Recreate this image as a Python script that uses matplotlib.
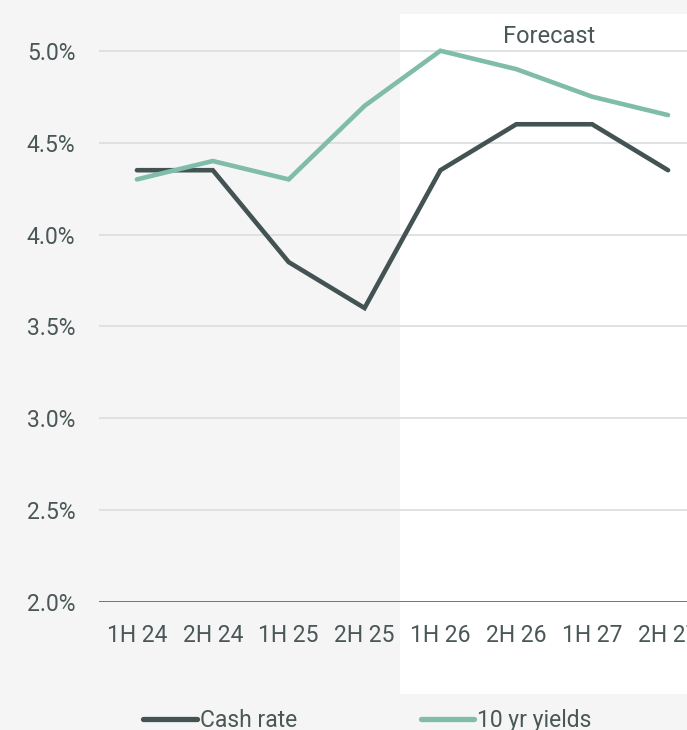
import matplotlib
matplotlib.use('Agg')
import matplotlib.pyplot as plt
import matplotlib.transforms as mtransforms
from matplotlib.patches import Rectangle

# ============================================================================
# DATA
# ============================================================================

periods    = ['1H 24', '2H 24', '1H 25', '2H 25', '1H 26', '2H 26', '1H 27', '2H 27']
cash_rate  = [4.35, 4.35, 3.85, 3.60, 4.35, 4.60, 4.60, 4.35]
yields_10y = [4.30, 4.40, 4.30, 4.70, 5.00, 4.90, 4.75, 4.65]
y_ticks    = [2.0, 2.5, 3.0, 3.5, 4.0, 4.5, 5.0]
forecast_start = 3.5   # between 2H 25 and 1H 26

# ============================================================================
# STYLE
# ============================================================================

BG        = '#f5f5f5'
DARK      = '#435252'
TEAL      = '#7fbcaa'
GRID      = '#d9dddd'
TEXT      = '#4a5757'
FS        = 16.5

plt.rcParams['font.family'] = ['Roboto', 'DejaVu Sans']

fig = plt.figure(figsize=(6.87, 7.30), dpi=100, facecolor=BG)
ax = fig.add_axes([0.1441, 0.1753, 0.8559, 0.8055])
ax.set_facecolor('none')

x = list(range(len(periods)))

# white forecast panel, extends below the axis into the tick label area
trans = mtransforms.blended_transform_factory(ax.transData, fig.transFigure)
ax.add_patch(Rectangle((forecast_start - 0.03, 0.0493), 10, 0.9315,
                       transform=trans, facecolor='white',
                       edgecolor='none', zorder=0, clip_on=False))

for t in y_ticks[1:]:
    ax.axhline(t, color=GRID, lw=1.2, zorder=1)
ax.axhline(2.0, color=DARK, lw=1.8, zorder=2)

ax.plot(x, cash_rate, color=DARK, lw=3.3, solid_capstyle='round',
        solid_joinstyle='miter', zorder=3, label='Cash rate')
ax.plot(x, yields_10y, color=TEAL, lw=3.3, solid_capstyle='round',
        solid_joinstyle='miter', zorder=3, label='10 yr yields')

ax.text(5.43, 5.078, 'Forecast', ha='center', va='center',
        fontsize=FS + 0.5, color=TEXT)

ax.set_xlim(-0.5, 7.25)
ax.set_ylim(2.0, 5.2)
ax.set_xticks(x)
ax.set_xticklabels(periods)
ax.set_yticks(y_ticks)
ax.set_yticklabels([f'{t:.1f}%' for t in y_ticks])
ax.tick_params(axis='both', length=0, labelsize=FS, colors=TEXT)
ax.tick_params(axis='y', pad=17)
ax.tick_params(axis='x', pad=16)
for s in ax.spines.values():
    s.set_visible(False)

leg = fig.legend(loc='center left', bbox_to_anchor=(0.178, 0.013),
                 ncol=2, frameon=False, fontsize=FS,
                 handlelength=2.35, handletextpad=0.12, columnspacing=5.4,
                 labelcolor=TEXT)
for line in leg.get_lines():
    line.set_linewidth(3.8)

fig.savefig('out.png', dpi=100, facecolor=BG)
